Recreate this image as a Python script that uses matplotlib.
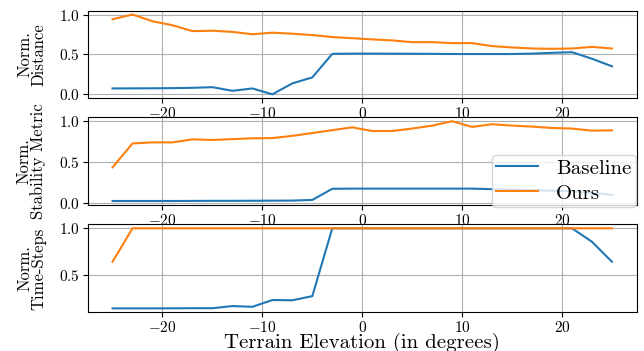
import matplotlib

matplotlib.use("Agg")
import matplotlib.pyplot as plt

plt.rcParams["font.family"] = "serif"
plt.rcParams["font.serif"] = ["cmr10"]
plt.rcParams["mathtext.fontset"] = "cm"
plt.rcParams["axes.formatter.use_mathtext"] = True
plt.rcParams["axes.unicode_minus"] = True

elevacao = list(range(-25, 26, 2))

dist_baseline = [0.064, 0.065, 0.066, 0.068, 0.072, 0.08, 0.034, 0.064, -0.01, 0.128, 0.204, 0.502, 0.505,
                 0.505, 0.504, 0.503, 0.502, 0.50, 0.50, 0.50, 0.50, 0.505, 0.515, 0.523, 0.44, 0.345]
dist_ours = [0.94, 1.0, 0.915, 0.864, 0.79, 0.795, 0.78, 0.75, 0.77, 0.757, 0.74, 0.715, 0.70,
             0.685, 0.672, 0.65, 0.65, 0.638, 0.638, 0.60, 0.583, 0.57, 0.566, 0.57, 0.59, 0.57]

estab_baseline = [0.02, 0.02, 0.02, 0.02, 0.021, 0.022, 0.022, 0.023, 0.024, 0.025, 0.033, 0.17, 0.172,
                  0.172, 0.172, 0.172, 0.172, 0.172, 0.172, 0.165, 0.16, 0.155, 0.145, 0.14, 0.12, 0.095]
estab_ours = [0.434, 0.727, 0.74, 0.74, 0.777, 0.77, 0.78, 0.79, 0.793, 0.82, 0.855, 0.89, 0.925,
              0.88, 0.88, 0.91, 0.946, 1.0, 0.93, 0.963, 0.946, 0.934, 0.917, 0.91, 0.884, 0.888]

passos_baseline = [0.138, 0.138, 0.138, 0.139, 0.14, 0.14, 0.163, 0.155, 0.228, 0.225, 0.27, 1.0, 1.0,
                   1.0, 1.0, 1.0, 1.0, 1.0, 1.0, 1.0, 1.0, 1.0, 1.0, 1.0, 0.855, 0.64]
passos_ours = [0.64] + [1.0] * 25

paineis = [
    ("Norm.\nDistance", dist_baseline, dist_ours),
    ("Norm.\nStability Metric", estab_baseline, estab_ours),
    ("Norm.\nTime-Steps", passos_baseline, passos_ours),
]

fig = plt.figure(figsize=(6.44, 3.51), dpi=100)
# posições (fração da figura)
posicoes = [
    [0.136, 0.720, 0.853, 0.250],
    [0.136, 0.416, 0.853, 0.250],
    [0.136, 0.110, 0.853, 0.251],
]

eixos = []
for (rotulo, base, ours), pos in zip(paineis, posicoes):
    ax = fig.add_axes(pos)
    ax.plot(elevacao, base, color="#1f77b4", linewidth=1.5, label="Baseline")
    ax.plot(elevacao, ours, color="#ff7f0e", linewidth=1.5, label="Ours")
    ax.set_ylabel(rotulo, fontsize=12, linespacing=0.9)
    ax.grid(True, color="#b0b0b0", linewidth=0.8)
    ax.set_xticks([-20, -10, 0, 10, 20])
    ax.tick_params(labelsize=11, pad=2)
    eixos.append(ax)

eixos[0].set_yticks([0.0, 0.5, 1.0])
eixos[1].set_yticks([0.0, 0.5, 1.0])
eixos[2].set_yticks([0.5, 1.0])
eixos[2].set_xlabel("Terrain Elevation (in degrees)", fontsize=15)
eixos[2].xaxis.set_label_coords(0.5, -0.235)

for ax in eixos:
    ax.yaxis.set_label_coords(-0.075, 0.5)

eixos[1].legend(loc="upper left", bbox_to_anchor=(0.7635, 0.5584), bbox_transform=fig.transFigure,
                fontsize=15, borderaxespad=0, borderpad=0.2, labelspacing=0.3, handletextpad=0.9)

fig.savefig("out.png", dpi=100)
